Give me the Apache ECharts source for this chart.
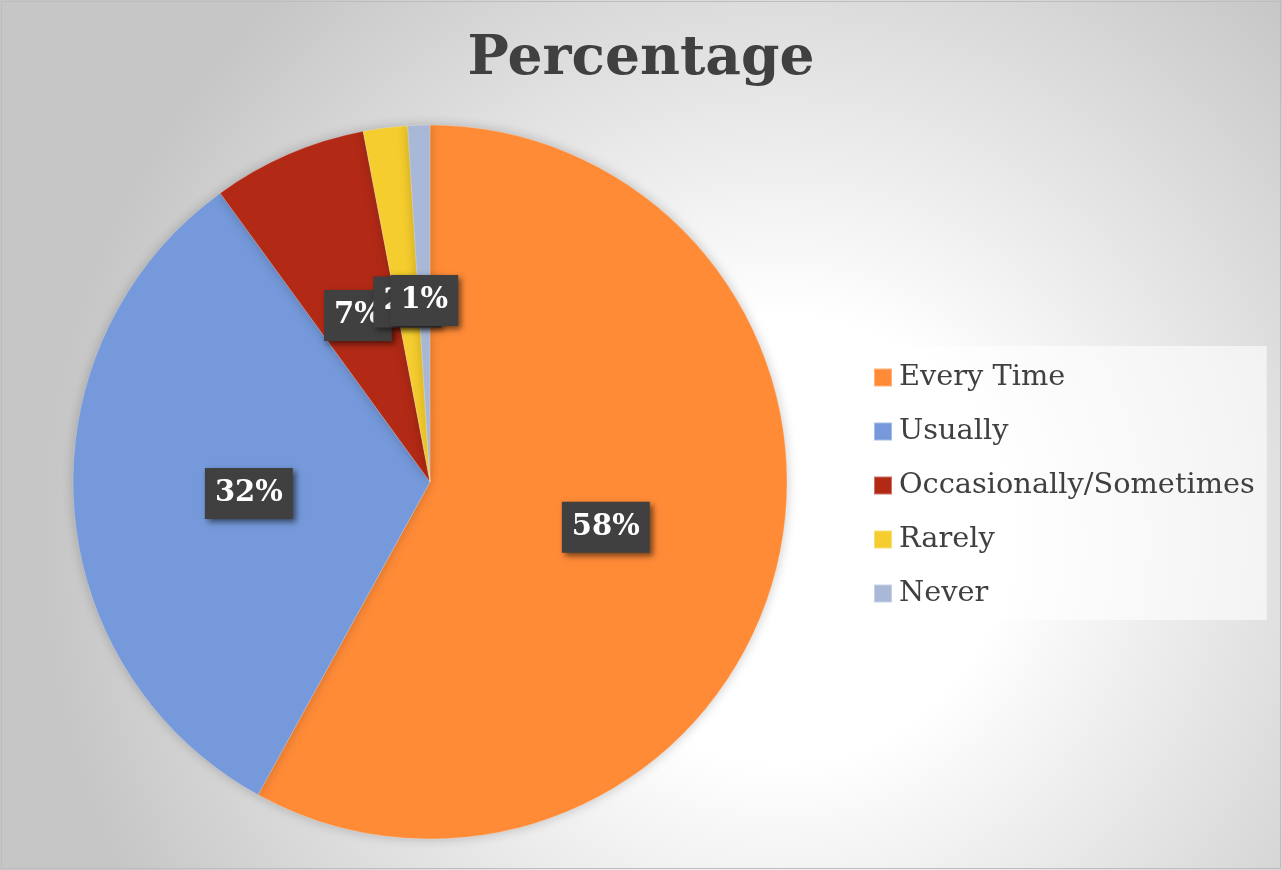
<!DOCTYPE html>
<html>
<head>
<meta charset="utf-8">
<script src="https://cdn.jsdelivr.net/npm/echarts@6/dist/echarts.min.js"></script>
<style>
html,body{margin:0;padding:0;background:#fff;}
#chart{width:1282px;height:870px;}
</style>
</head>
<body>
<div id="chart"></div>
<script>
const categories = ['Every Time', 'Usually', 'Occasionally/Sometimes', 'Rarely', 'Never'];
const values = [58, 32, 7, 2, 1];
const colors = ['#FF8B37', '#7599DA', '#B22A16', '#F5CD2E', '#AAB8D8'];
const titleText = 'Percentage';

const chart = echarts.init(document.getElementById('chart'), null, {renderer: 'canvas'});
const serif = "'DejaVu Serif', 'Liberation Serif', serif";

chart.setOption({
  backgroundColor: {
    type: 'radial', x: 0.61, y: 0.62, r: 0.85,
    colorStops: [
      {offset: 0, color: '#ffffff'},
      {offset: 0.3, color: '#ffffff'},
      {offset: 1, color: '#c6c6c6'}
    ]
  },
  animation: false,
  title: {
    text: titleText,
    left: 'center',
    top: 27,
    textStyle: {fontFamily: serif, fontWeight: 'bold', fontSize: 55, color: '#404040'}
  },
  legend: {
    orient: 'vertical',
    left: 858,
    top: 346,
    padding: [13, 12, 8, 15],
    backgroundColor: 'rgba(255,255,255,0.6)',
    itemWidth: 18,
    itemHeight: 18,
    itemGap: 17,
    icon: 'rect',
    selectedMode: false,
    textStyle: {fontFamily: serif, fontSize: 28.8, color: '#404040', lineHeight: 34, padding: [3, 0, 0, 2]},
    data: categories
  },
  graphic: [{
    type: 'rect', silent: true,
    shape: {x: 1.5, y: 1.5, width: 1279, height: 867},
    style: {fill: 'none', stroke: '#bdbdbd', lineWidth: 1}
  }],
  series: [{
    type: 'pie',
    center: [430, 482],
    radius: [0, 357],
    startAngle: 90,
    clockwise: true,
    data: categories.map((c, i) => ({name: c, value: values[i], itemStyle: {color: colors[i]}})),
    itemStyle: {
      shadowBlur: 12,
      shadowColor: 'rgba(0,0,0,0.22)',
      borderColor: 'rgba(255,255,255,0.35)',
      borderWidth: 0.6
    },
    labelLayout: {hideOverlap: false},
    label: {
      show: true,
      position: 'inside',
      formatter: '{c}%',
      fontFamily: serif,
      fontWeight: 'bold',
      fontSize: 29,
      lineHeight: 33,
      color: '#ffffff',
      backgroundColor: '#404040',
      padding: [10, 10, 8, 10],
      shadowColor: 'rgba(0,0,0,0.55)',
      shadowBlur: 6,
      shadowOffsetX: 3,
      shadowOffsetY: 3
    },
    labelLine: {show: false},
    emphasis: {disabled: true}
  }]
});
</script>
</body>
</html>
